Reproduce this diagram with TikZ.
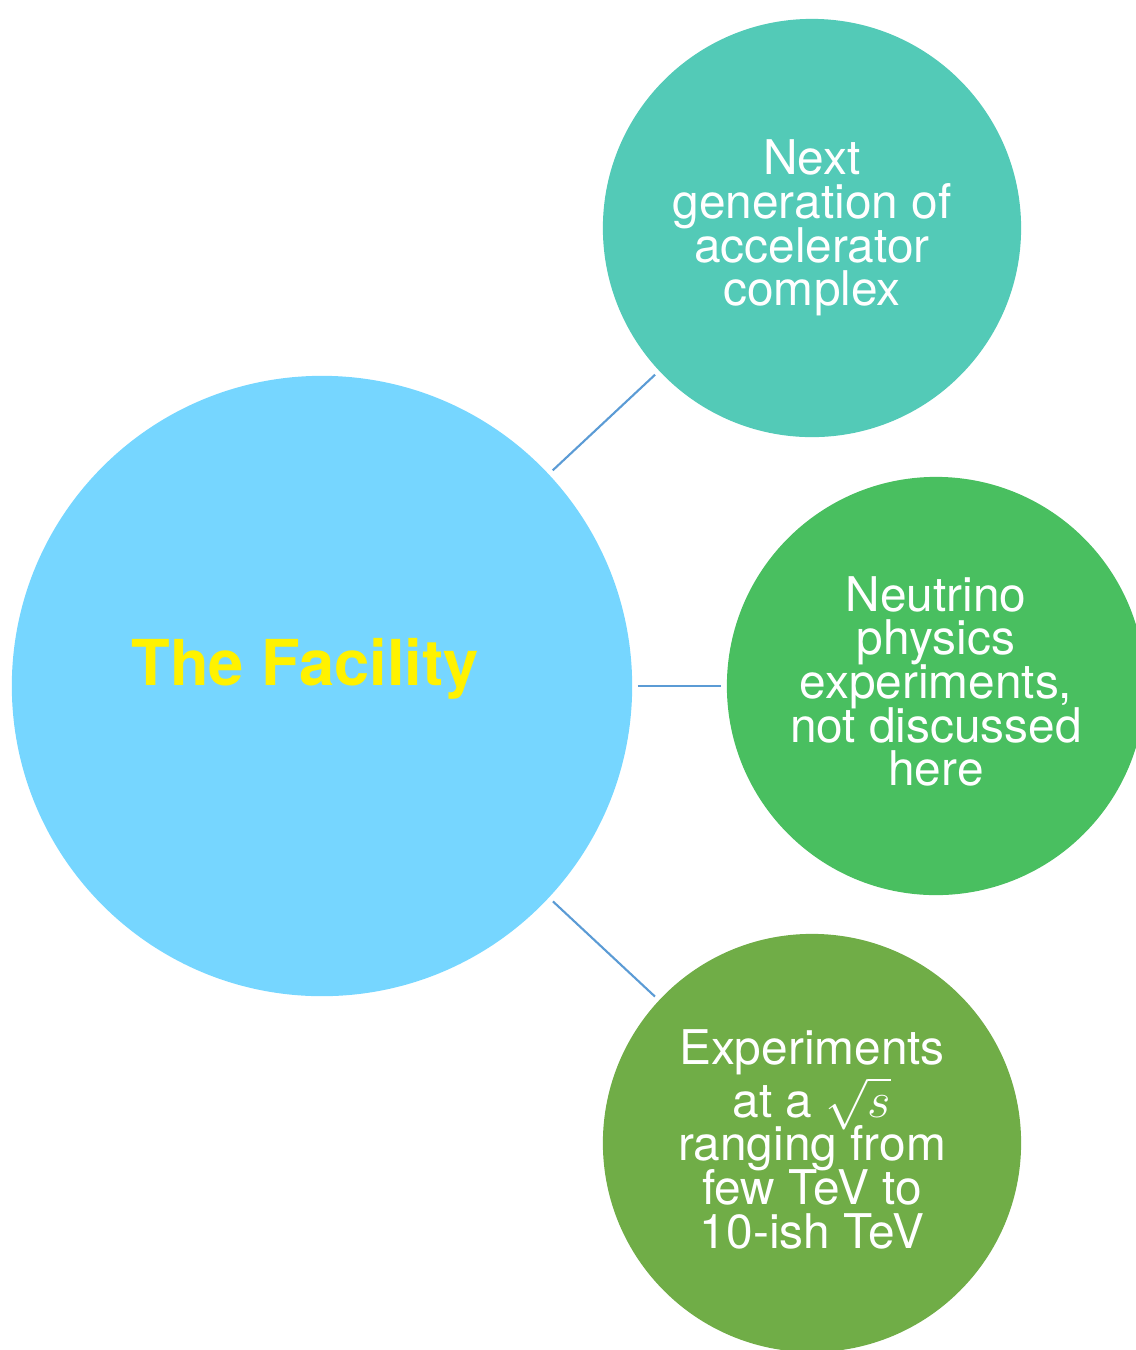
\documentclass[tikz,border=0pt]{standalone}
\usepackage{fontspec}
\setmainfont{TeX Gyre Heros}
\usetikzlibrary{positioning,calc}
\definecolor{hubblue}{RGB}{118,214,255}
\definecolor{accteal}{RGB}{83,202,183}
\definecolor{midgreen}{RGB}{73,191,96}
\definecolor{olivegreen}{RGB}{112,173,71}
\definecolor{linkblue}{RGB}{91,155,213}
% tight leading for the text in the small circles
\newcommand{\leaffont}{\fontsize{13.6pt}{12.4pt}\selectfont\setlength{\lineskiplimit}{-1.5pt}\setlength{\lineskip}{0.6pt}}

\begin{document}
\begin{tikzpicture}[x=0.01cm,y=-0.01cm,
				hub/.style={circle,fill=hubblue,minimum size=6.2cm,inner sep=0pt},
				leaf/.style={circle,minimum size=4.18cm,inner sep=0pt,align=center,text=white,font=\leaffont},
				link/.style={draw=linkblue,line width=0.6pt,shorten <=1.4pt,shorten >=1.4pt}]
				\useasboundingbox (0,0) rectangle (1136,1350);
				\clip (0,0) rectangle (1136,1350);
				\node (HUB)   [hub] at (322,686) {};
				\node (TITLE) at ([shift={(-17,-17)}]HUB.center) {\fontsize{18pt}{20pt}\selectfont\bfseries\color{yellow}The Facility};
				\node (ACC)   [leaf,fill=accteal]                    at (812,228)  {Next\\generation of\\accelerator\\complex};
				\node (NU)    [leaf,fill=midgreen,text depth=2.8pt]   at (936,686)  {Neutrino\\physics\\experiments,\\not discussed\\here};
				\node (EXP)   [leaf,fill=olivegreen,text depth=2.3pt] at (812,1143) {Experiments\\at a $\sqrt{s}$\\ranging from\\few TeV to\\10-ish TeV};
				
				\draw[link] (HUB) -- (ACC);
				\draw[link] (HUB) -- (NU);
				\draw[link] (HUB) -- (EXP);
			\end{tikzpicture}
\end{document}
